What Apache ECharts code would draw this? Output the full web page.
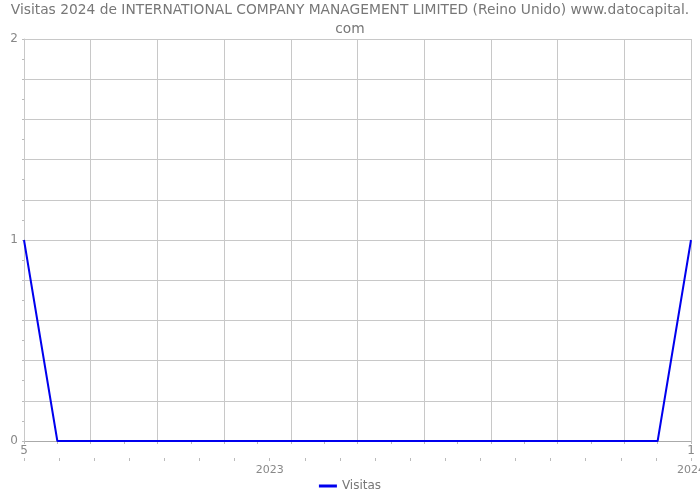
<!DOCTYPE html>
<html><head><meta charset="utf-8">
<script src="https://cdn.jsdelivr.net/npm/echarts@6/dist/echarts.min.js"></script>
<style>html,body{margin:0;padding:0;background:#fff}#c{width:700px;height:500px}</style>
</head><body><div id="c"></div>
<script>
var titleText = 'Visitas 2024 de INTERNATIONAL COMPANY MANAGEMENT LIMITED (Reino Unido) www.datocapital.\ncom';
var months = ['5','6','7','8','9','10','11','12','1','2','3','4','5','6','7','8','9','10','11','12','1'];
var visitas = [1,0,0,0,0,0,0,0,0,0,0,0,0,0,0,0,0,0,0,0,1];
var yearTicks = [0,1,2,3,4,5,6,7,8,9,10,11,12,13,14,15,16,17,18,19];
var yearLabels = {7:'2023', 19:'2024'};
var FONT = 'DejaVu Sans';
var chart = echarts.init(document.getElementById('c'), null, {renderer:'canvas'});
chart.setOption({
  animation:false,
  backgroundColor:'#fff',
  title:{text:titleText,left:'center',top:-4,textStyle:{fontFamily:FONT,fontSize:13.8,fontWeight:'normal',color:'#777',lineHeight:19}},
  legend:{bottom:3,left:'center',itemWidth:18,itemHeight:3,icon:'rect',textStyle:{fontFamily:FONT,fontSize:12,color:'#777'},data:['Visitas']},
  grid:{left:24,right:9,top:39,bottom:59,containLabel:false,outerBoundsMode:'none'},
  xAxis:[{
    type:'category',data:months,boundaryGap:false,
    axisLine:{lineStyle:{color:'#aaa'}},
    axisTick:{show:true,interval:0,length:3,lineStyle:{color:'#bbb'}},
    splitLine:{show:true,interval:1,lineStyle:{color:'#c8c8c8'}},
    axisLabel:{interval:function(i){return i===0||i===months.length-1;},margin:4,fontFamily:FONT,fontSize:12,color:'#888',showMinLabel:true,showMaxLabel:true}
  },{
    type:'value',position:'bottom',offset:17,min:0,max:19,interval:1,
    axisLine:{show:false},
    axisTick:{show:true,length:3,lineStyle:{color:'#bbb'}},
    splitLine:{show:false},
    axisLabel:{margin:7,fontFamily:FONT,fontSize:11,color:'#888',showMinLabel:true,showMaxLabel:true,
      formatter:function(v){return yearLabels[v]||'';}}
  }],
  yAxis:{type:'value',min:0,max:2,interval:0.2,
    axisLine:{show:true,lineStyle:{color:'#c8c8c8'}},
    axisTick:{show:true,length:2,lineStyle:{color:'#bbb'}},
    minorTick:{show:true,splitNumber:2,length:2,lineStyle:{color:'#bbb'}},
    splitLine:{show:true,lineStyle:{color:'#c8c8c8'}},
    axisLabel:{margin:6,fontFamily:FONT,fontSize:12,color:'#888',
      formatter:function(v){return Math.abs(v-Math.round(v))<1e-9?String(Math.round(v)):'';}}
  },
  series:[{name:'Visitas',type:'line',data:visitas,xAxisIndex:0,showSymbol:false,symbol:'none',
    lineStyle:{color:'#0000ee',width:2},itemStyle:{color:'#0000ee'}}]
});
</script></body></html>
